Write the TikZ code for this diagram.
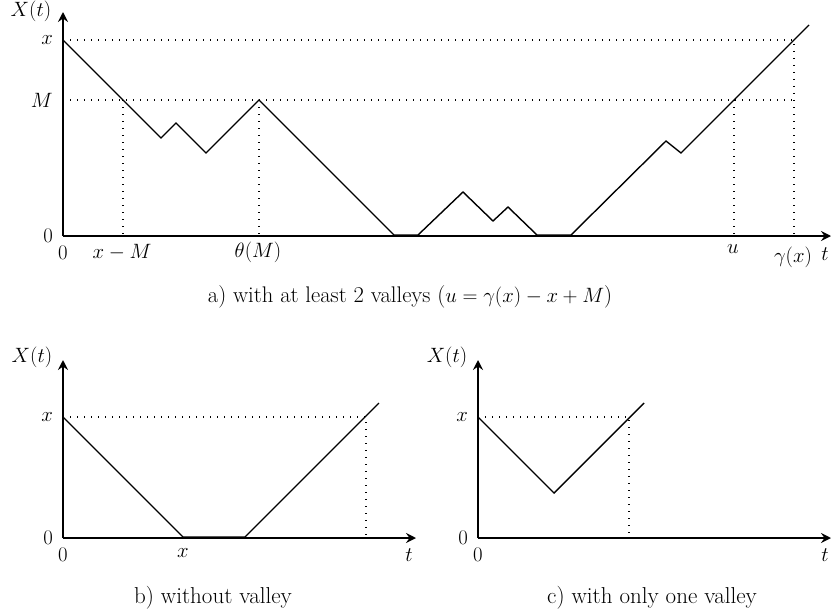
\documentclass[tikz,border=0pt]{standalone}
\usetikzlibrary{arrows.meta}
\begin{document}
\begin{tikzpicture}[x=1pt,y=-1pt,
  every node/.style={font=\fontsize{20.5}{24}\selectfont, inner sep=0pt},
  caption/.style={font=\fontsize{23}{27}\selectfont},
  captiona/.style={font=\fontsize{22.6}{26}\selectfont},
  axis/.style={line width=1.8pt, -{Stealth[length=10pt,width=10pt,inset=3.5pt]}},
  curve/.style={line width=1.4pt, line join=miter},
  dotline/.style={line width=1.3pt, dash pattern=on 1.3pt off 5.7pt},
  ylab/.style={anchor=east}]
\useasboundingbox (0,0) rectangle (833,616);
% ---------- panel a ----------
\coordinate (Oa) at (63,236);
\draw[axis] (Oa) -- (63,12);
\draw[axis] (Oa) -- (831,236);
\draw[dotline] (63,40) -- (794,40) -- (794,236);
\draw[dotline] (63,100) -- (794,100);
\draw[dotline] (123,100) -- (123,236);
\draw[dotline] (259,100) -- (259,236);
\draw[dotline] (734,100) -- (734,236);
\draw[curve] (63,40) -- (161,138) -- (176,123) -- (206,153) -- (259,100) -- (394,235)
  -- (418,235) -- (463,192) -- (493,221) -- (508,207) -- (537,235) -- (571,235)
  -- (666,141) -- (681,153) -- (809,25);
\node (aXt) at (31,11) {$X(t)$};
\node[ylab] (ax) at (53,40) {$x$};
\node[ylab] (aM) at (53,100) {$M$};
\node[ylab] (a0) at (53,236) {$0$};
\node (a0b) at (63,253) {$0$};
\node (axM) at (122,252) {$x-M$};
\node (ath) at (258,252) {$\theta(M)$};
\node (au) at (733,249) {$u$};
\node (ag) at (793,257) {$\gamma(x)$};
\node (at) at (825,254) {$t$};
\node[captiona] (acap) at (410,297) {a) with at least 2 valleys ($u=\gamma(x)-x+M$)};
% ---------- panel b ----------
\coordinate (Ob) at (63,538);
\draw[axis] (Ob) -- (63,360);
\draw[axis] (Ob) -- (416,538);
\draw[dotline] (63,417) -- (366,417) -- (366,538);
\draw[curve] (63,417) -- (183,537) -- (245,537) -- (379,403);
\node (bXt) at (32,357) {$X(t)$};
\node[ylab] (bx) at (53,417) {$x$};
\node[ylab] (b0) at (53,538) {$0$};
\node (b0b) at (63,555) {$0$};
\node (bxb) at (183,553) {$x$};
\node (bt) at (409,555) {$t$};
\node[caption] (bcap) at (213,598) {b) without valley};
% ---------- panel c ----------
\coordinate (Oc) at (478,538);
\draw[axis] (Oc) -- (478,360);
\draw[axis] (Oc) -- (831,538);
\draw[dotline] (478,417) -- (629,417) -- (629,538);
\draw[curve] (478,417) -- (554,493) -- (644,403);
\node (cXt) at (447,357) {$X(t)$};
\node[ylab] (cx) at (468,417) {$x$};
\node[ylab] (c0) at (468,538) {$0$};
\node (c0b) at (478,555) {$0$};
\node (ct) at (825,555) {$t$};
\node[caption] (ccap) at (652,598) {c) with only one valley};
\end{tikzpicture}
\end{document}
